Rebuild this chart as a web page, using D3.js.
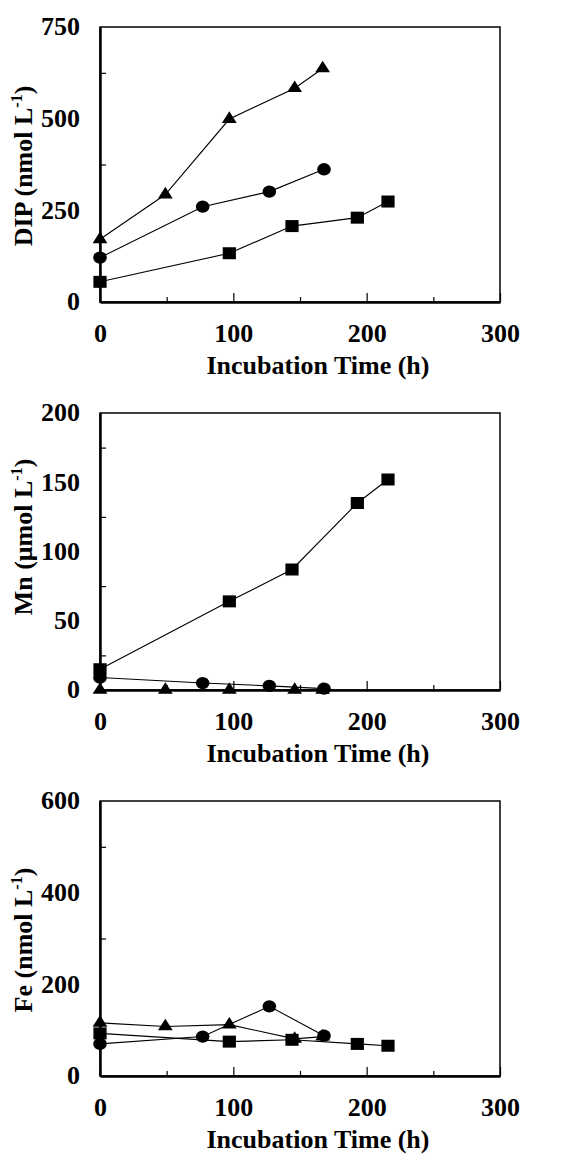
<!DOCTYPE html>
<html>
<head>
<meta charset="utf-8">
<script src="https://cdn.jsdelivr.net/npm/d3@7"></script>
<style>
  body { margin: 0; background: #fff; }
</style>
</head>
<body>
<svg width="577" height="1157"></svg>
<script>
// sampling times (h) for each treatment
var timeTri = [0, 49, 97, 146, 167];
var timeCirc = [0, 77, 127, 168];
var timeSq = [0, 97, 144, 193, 216];

// DIP (nmol L-1)
var dipTri = [171, 293, 499, 583, 637];
var dipCirc = [121, 260, 301, 362];
var dipSq = [55, 133, 207, 230, 274];

// Mn (umol L-1)
var mnTri = [0, 0, 0, 0, 0];
var mnCirc = [9, 5, 3, 1];
var mnSq = [15, 64, 87, 135, 152];

// Fe (nmol L-1)
var feTri = [116, 108, 112, 81, 86];
var feCirc = [70, 86, 152, 88];
var feSq = [93, 75, 79, 70, 66];

// axis ticks
var xTicks = [0, 100, 200, 300];
var xMinor = [50, 150, 250];
var dipTicks = [0, 250, 500, 750];
var dipMinor = [125, 375, 625];
var mnTicks = [0, 50, 100, 150, 200];
var mnMinor = [25, 75, 125, 175];
var feTicks = [0, 200, 400, 600];
var feMinor = [100, 300, 500];

var FONT = '"Liberation Serif", "Times New Roman", Times, serif';

var svg = d3.select('svg')
  .attr('font-family', FONT)
  .attr('font-weight', 'bold');
svg.append('rect').attr('width', 577).attr('height', 1157).attr('fill', '#fff');

var x = d3.scaleLinear().domain([0, 300]).range([100, 500]);

function pairs(t, v) {
  return t.map(function (d, i) { return { t: d, v: v[i] }; });
}

var panels = [
  { top: 27, bottom: 302, max: 750, ticks: dipTicks, minor: dipMinor,
    label: ['DIP (nmol L', ')'], labelY: 166,
    series: [
      { shape: d3.symbolTriangle, data: pairs(timeTri, dipTri) },
      { shape: d3.symbolCircle, data: pairs(timeCirc, dipCirc) },
      { shape: d3.symbolSquare, data: pairs(timeSq, dipSq) }
    ] },
  { top: 413, bottom: 690, max: 200, ticks: mnTicks, minor: mnMinor,
    label: ['Mn (\u03bcmol L', ')'], labelY: 537,
    series: [
      { shape: d3.symbolTriangle, data: pairs(timeTri, mnTri) },
      { shape: d3.symbolCircle, data: pairs(timeCirc, mnCirc) },
      { shape: d3.symbolSquare, data: pairs(timeSq, mnSq) }
    ] },
  { top: 801, bottom: 1076, max: 600, ticks: feTicks, minor: feMinor,
    label: ['Fe (nmol L', ')'], labelY: 940,
    series: [
      { shape: d3.symbolTriangle, data: pairs(timeTri, feTri) },
      { shape: d3.symbolCircle, data: pairs(timeCirc, feCirc) },
      { shape: d3.symbolSquare, data: pairs(timeSq, feSq) }
    ] }
];

var sizes = new Map([[d3.symbolTriangle, 78], [d3.symbolCircle, 120], [d3.symbolSquare, 144]]);

panels.forEach(function (p) {
  var y = d3.scaleLinear().domain([0, p.max]).range([p.bottom, p.top]);
  var g = svg.append('g');

  // frame
  g.append('rect')
    .attr('x', x(0)).attr('y', p.top)
    .attr('width', x(300) - x(0)).attr('height', p.bottom - p.top)
    .attr('fill', 'none').attr('stroke', '#000').attr('stroke-width', 1.5);

  // x axis
  var xa = g.append('g').attr('transform', 'translate(0,' + p.bottom + ')')
    .call(d3.axisBottom(x).tickValues(xTicks).tickSize(-9).tickSizeOuter(0))
    .attr('font-family', FONT).attr('font-size', 26);
  xa.select('.domain').attr('stroke-width', 2.5);
  xa.selectAll('line').attr('stroke-width', 1.2);
  xa.selectAll('text').attr('y', 40).attr('dy', 0);

  g.append('g').attr('transform', 'translate(0,' + p.bottom + ')')
    .call(d3.axisBottom(x).tickValues(xMinor).tickSize(-5).tickFormat(''))
    .call(function (s) { s.select('.domain').remove(); s.selectAll('line').attr('stroke-width', 1.2); });

  // y axis
  var ya = g.append('g').attr('transform', 'translate(' + x(0) + ',0)')
    .call(d3.axisLeft(y).tickValues(p.ticks).tickSize(0).tickPadding(20))
    .attr('font-family', FONT).attr('font-size', 26);
  ya.select('.domain').attr('stroke-width', 2.5);
  ya.selectAll('text').attr('dy', '0.3em');

  g.append('g').attr('transform', 'translate(' + x(0) + ',0)')
    .call(d3.axisLeft(y).tickValues(p.minor).tickSize(-6).tickFormat(''))
    .call(function (s) { s.select('.domain').remove(); s.selectAll('line').attr('stroke-width', 1.2); });

  // axis titles
  g.append('text')
    .attr('x', 318).attr('y', p.bottom + 72)
    .attr('text-anchor', 'middle')
    .attr('font-size', 26)
    .text('Incubation Time (h)');

  var yl = g.append('text')
    .attr('transform', 'translate(32,' + p.labelY + ') rotate(-90)')
    .attr('text-anchor', 'middle')
    .attr('font-size', 26);
  yl.append('tspan').text(p.label[0]);
  yl.append('tspan').attr('dy', -10).attr('font-size', 16).text('-1');
  yl.append('tspan').attr('dy', 10).text(p.label[1]);

  // series lines
  var line = d3.line().x(function (d) { return x(d.t); }).y(function (d) { return y(d.v); });
  p.series.forEach(function (s) {
    g.append('path').datum(s.data)
      .attr('d', line).attr('fill', 'none')
      .attr('stroke', '#000').attr('stroke-width', 1.1);
  });

  // markers
  p.series.forEach(function (s) {
    g.selectAll(null).data(s.data).enter().append('path')
      .attr('d', d3.symbol().type(s.shape).size(sizes.get(s.shape)))
      .attr('transform', function (d) {
        return 'translate(' + x(d.t) + ',' + y(d.v) + ') scale(1.1,1)';
      })
      .attr('fill', '#000');
  });
});
</script>
</body>
</html>
